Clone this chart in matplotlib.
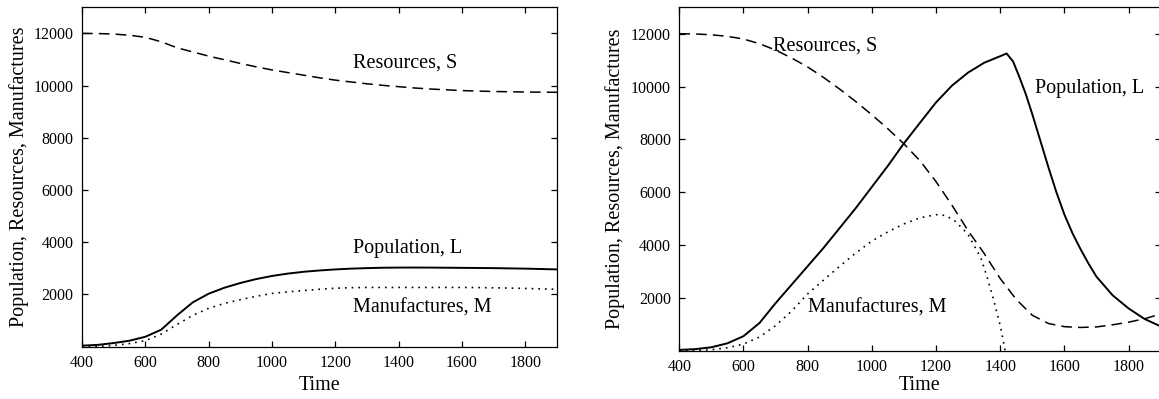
import matplotlib
matplotlib.use("Agg")
import matplotlib.pyplot as plt

plt.rcParams['font.family'] = ['Liberation Serif', 'DejaVu Serif']

# ---- left panel: stable case ----
t_left = [400, 450, 500, 550, 600, 650, 700, 750, 800, 850, 900, 950, 1000, 1050,
          1100, 1150, 1200, 1250, 1300, 1350, 1400, 1450, 1500, 1550, 1600, 1650,
          1700, 1750, 1800, 1850, 1900]
S_left = [12000, 11995, 11975, 11930, 11850, 11680, 11450, 11290, 11130, 10990,
          10850, 10720, 10600, 10500, 10400, 10300, 10210, 10140, 10070, 10010,
          9960, 9910, 9870, 9840, 9810, 9790, 9775, 9765, 9755, 9750, 9745]
L_left = [40, 70, 140, 230, 380, 650, 1200, 1700, 2030, 2260, 2440, 2590, 2710,
          2800, 2870, 2920, 2960, 2990, 3010, 3025, 3030, 3032, 3030, 3025, 3020,
          3015, 3010, 3000, 2990, 2975, 2960]
M_left = [0, 15, 50, 120, 230, 480, 850, 1200, 1470, 1660, 1800, 1930, 2040, 2100,
          2150, 2200, 2240, 2260, 2270, 2270, 2270, 2270, 2270, 2270, 2270, 2265,
          2255, 2245, 2230, 2215, 2200]

# ---- right panel: collapse case ----
t_right_S = [400, 450, 500, 550, 600, 650, 700, 750, 800, 850, 900, 950, 1000,
             1050, 1100, 1150, 1200, 1250, 1300, 1350, 1400, 1450, 1500, 1550,
             1600, 1650, 1700, 1750, 1800, 1850, 1900]
S_right = [12000, 11990, 11960, 11900, 11800, 11620, 11380, 11080, 10740, 10340,
           9900, 9430, 8930, 8400, 7830, 7190, 6400, 5500, 4540, 3680, 2730, 1940,
           1340, 1030, 910, 880, 900, 980, 1080, 1210, 1390]

t_right_L = [400, 450, 500, 550, 600, 650, 700, 750, 800, 850, 900, 950, 1000,
             1050, 1100, 1150, 1200, 1250, 1300, 1350, 1400, 1420, 1440, 1460,
             1480, 1500, 1525, 1550, 1575, 1600, 1625, 1650, 1675, 1700, 1750,
             1800, 1850, 1900]
L_right = [30, 60, 130, 280, 550, 1050, 1800, 2500, 3200, 3900, 4650, 5400, 6200,
           7000, 7850, 8630, 9400, 10040, 10530, 10900, 11150, 11250, 10950, 10350,
           9700, 8950, 7950, 6950, 6000, 5150, 4450, 3850, 3300, 2800, 2100, 1600,
           1200, 920]

t_right_M = [400, 450, 500, 550, 600, 650, 700, 750, 800, 850, 900, 950, 1000,
             1050, 1100, 1150, 1200, 1230, 1260, 1300, 1340, 1360, 1380, 1400,
             1410, 1415]
M_right = [0, 10, 40, 110, 250, 520, 950, 1500, 2150, 2680, 3200, 3700, 4150, 4500,
           4800, 5030, 5150, 5120, 4900, 4400, 3500, 2750, 1900, 950, 350, 0]

x_ticks = [400, 600, 800, 1000, 1200, 1400, 1600, 1800]
y_ticks = [2000, 4000, 6000, 8000, 10000, 12000]

ylabel = "Population, Resources, Manufactures"

fig = plt.figure(figsize=(11.59, 3.99), dpi=100)
ax1 = fig.add_axes([82 / 1159, 1 - 346.7 / 399, 475 / 1159, 339.4 / 399])
ax2 = fig.add_axes([679.3 / 1159, 1 - 350.7 / 399, 481.4 / 1159, 343.4 / 399])

dash = (0, (7, 4))
dot = (0, (1, 3))

ax1.plot(t_left, S_left, color="black", lw=1.1, linestyle=dash)
ax1.plot(t_left, L_left, color="black", lw=1.4)
ax1.plot(t_left, M_left, color="black", lw=1.2, linestyle=dot)

ax2.plot(t_right_S, S_right, color="black", lw=1.1, linestyle=dash)
ax2.plot(t_right_L, L_right, color="black", lw=1.4)
ax2.plot(t_right_M, M_right, color="black", lw=1.2, linestyle=dot)

txt = dict(fontsize=14.5, va="center", ha="left")
ax1.text(1255, 10880, "Resources, S", **txt)
ax1.text(1255, 3770, "Population, L", **txt)
ax1.text(1255, 1480, "Manufactures, M", **txt)
ax2.text(691, 11520, "Resources, S", **txt)
ax2.text(1509, 9930, "Population, L", **txt)
ax2.text(801, 1600, "Manufactures, M", **txt)

for ax, bottom, height in ((ax1, 346.7, 339.4), (ax2, 350.7, 343.4)):
    ax.set_xlim(400, 1900)
    ax.set_ylim(0, 13000)
    ax.set_xticks(x_ticks)
    ax.set_yticks(y_ticks)
    ax.tick_params(direction="in", length=4, width=0.9, top=True, right=True,
                   labelsize=11.5, pad=6)
    for sp in ax.spines.values():
        sp.set_linewidth(0.9)
    ax.set_xlabel("Time", fontsize=14.5)
    ax.set_ylabel(ylabel, fontsize=14.5)
    ax.xaxis.label.set_va("center")
    ax.yaxis.label.set_va("center")
    # "Time" sits at about y = 386 px in both panels
    ax.xaxis.set_label_coords(0.5, (bottom - 386) / height)
    ax.yaxis.set_label_coords(-0.133, 0.5)

fig.savefig("out.png", dpi=100)
